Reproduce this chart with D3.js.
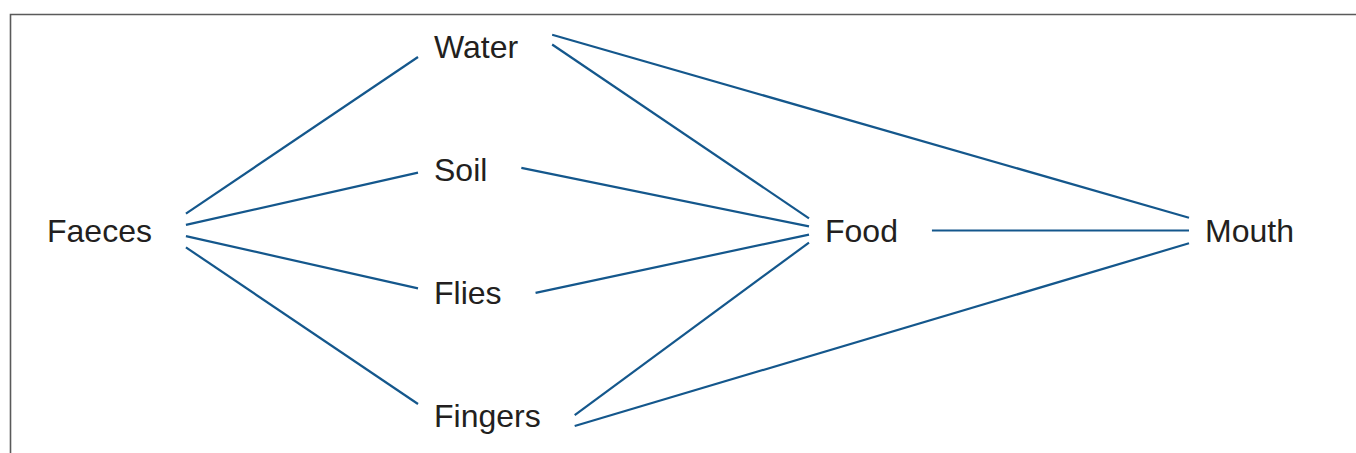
<!DOCTYPE html>
<html>
<head>
<meta charset="utf-8">
<script src="https://cdn.jsdelivr.net/npm/d3@7"></script>
<style>
  html, body { margin: 0; padding: 0; background: #fff; overflow: hidden; }
  svg { display: block; }
</style>
</head>
<body>
<svg id="chart"></svg>
<script>
// nodes of the transmission diagram
const nodeNames = ['Faeces', 'Water', 'Soil', 'Flies', 'Fingers', 'Food', 'Mouth']
const nodeColumns = [0, 1, 1, 1, 1, 2, 3]
const nodeRows = [1.5, 0, 1, 2, 3, 1.5, 1.5]

// routes, source -> target
const linkSources = ['Faeces', 'Faeces', 'Faeces', 'Faeces', 'Water', 'Water', 'Soil', 'Flies', 'Fingers', 'Fingers', 'Food']
const linkTargets = ['Water', 'Soil', 'Flies', 'Fingers', 'Food', 'Mouth', 'Food', 'Food', 'Food', 'Mouth', 'Mouth']

const size = { width: 1356, height: 453 }
const lineColor = '#14578c'
const textColor = '#231f20'

const svg = d3.select('#chart')
  .attr('width', size.width)
  .attr('height', size.height)

// frame (only top and left edge fall inside the picture)
svg.append('path')
  .attr('d', `M10.5,${size.height + 2}V14.5H${size.width + 2}`)
  .attr('fill', 'none')
  .attr('stroke', '#5a5a5a')
  .attr('stroke-width', 1.6)

// SCALES
const xScale = d3.scaleLinear().domain([0, 1, 2, 3]).range([47, 434, 825, 1205])
const yScale = d3.scaleLinear().domain([0, 3]).range([46, 415])
const midY = yScale(1.5)

const nodes = nodeNames.map((name, i) => ({
  name,
  x: xScale(nodeColumns[i]),
  cy: yScale(nodeRows[i])
}))
const byName = new Map(nodes.map(n => [n.name, n]))

// DRAW TEXT
const labels = svg.append('g').attr('class', 'labels')
  .selectAll('text')
  .data(nodes)
  .join('text')
  .attr('x', d => d.x)
  .attr('y', d => d.cy)
  .attr('dy', '0.36em')
  .attr('font-family', 'Liberation Sans, Arial, Helvetica, sans-serif')
  .attr('font-size', 32)
  .attr('fill', textColor)
  .text(d => d.name)

labels.each(function (d) {
  d.right = d.x + this.getComputedTextLength()
})

// DRAW LINES
const GAP_OUT = 34
const GAP_IN = 16
const CONV_OUT = 25
const CONV_IN = 0.07 // share of the line's width
const SPREAD = 0.1

const links = linkSources.map((s, i) => {
  const src = byName.get(s)
  const tgt = byName.get(linkTargets[i])
  const x1 = src.right + GAP_OUT
  const x2 = tgt.x - GAP_IN
  // lines fan out from a hub just behind the start and meet at a hub past the end
  const fx1 = x1 - CONV_OUT
  const fy1 = src.cy + SPREAD * (src.cy - midY)
  const fx2 = x2 + CONV_IN * (x2 - x1)
  const fy2 = tgt.cy
  const yAt = x => fy1 + (fy2 - fy1) * (x - fx1) / (fx2 - fx1)
  return { x1, y1: yAt(x1), x2, y2: yAt(x2) }
})

svg.append('g').attr('class', 'links')
  .selectAll('line')
  .data(links)
  .join('line')
  .attr('x1', d => d.x1)
  .attr('y1', d => d.y1)
  .attr('x2', d => d.x2)
  .attr('y2', d => d.y2)
  .attr('stroke', lineColor)
  .attr('stroke-width', 2.2)
</script>
</body>
</html>
